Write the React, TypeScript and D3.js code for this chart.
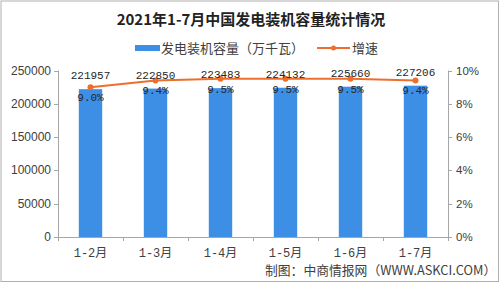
import React from "react";
import * as d3 from "d3";

const categories = ["1-2月", "1-3月", "1-4月", "1-5月", "1-6月", "1-7月"];
const capacity = [221957, 222850, 223483, 224132, 225660, 227206];
const growth = [9.0, 9.4, 9.5, 9.5, 9.5, 9.4];
const growthLabels = ["9.0%", "9.4%", "9.5%", "9.5%", "9.5%", "9.4%"];
const leftTicks = [0, 50000, 100000, 150000, 200000, 250000];
const rightTicks = [0, 2, 4, 6, 8, 10];

const W = 500;
const H = 283;
const M = { left: 58, right: 448, top: 70.5, bottom: 237 };
const BLUE = "#3d8fe6";
const ORANGE = "#ee6e2e";
const AXIS = "#a6a6a6";
const TEXT = "#404040";
const MONO = "'Liberation Mono', 'DejaVu Sans Mono', 'Noto Sans CJK SC', monospace";
const SANS = "'Liberation Sans', Arial, 'Noto Sans CJK SC', sans-serif";
const CJK = "'Noto Sans CJK SC', 'Liberation Sans', sans-serif";

export default function App() {
  const x = d3.scaleBand<string>().domain(categories).range([M.left, M.right]).paddingInner(0.64).paddingOuter(0.32);
  const xc = d3.scaleBand<string>().domain(categories).range([M.left, M.right]);
  const yL = d3.scaleLinear().domain([0, 250000]).range([M.bottom, M.top]);
  const yR = d3.scaleLinear().domain([0, 10]).range([M.bottom, M.top]);
  const cx = (c: string) => (xc(c) as number) + xc.bandwidth() / 2;
  const line = d3
    .line<number>()
    .x((_, i) => cx(categories[i]))
    .y((d) => yR(d));

  const boundaries = [M.left, ...categories.map((c) => (xc(c) as number) + xc.bandwidth())];

  return (
    <svg width={W} height={H} style={{ position: "absolute", left: 0, top: 0, background: "#fff" }}>
      <rect x={0} y={0} width={W} height={H} fill="#fff" />
      <rect x={1} y={1} width={W - 2.5} height={H - 2.5} fill="none" stroke="#b0b0b0" strokeWidth={1} />
      <text x={251} y={25} textAnchor="middle" fontFamily={CJK} fontWeight="bold" fontSize={15} fill="#222">
        2021年1-7月中国发电装机容量统计情况
      </text>

      {/* legend */}
      <rect x={135} y={45} width={25} height={6} fill={BLUE} />
      <text x={161} y={52.5} fontFamily={CJK} fontSize={13} fill={TEXT}>
        发电装机容量（万千瓦）
      </text>
      <line x1={317} x2={350} y1={48} y2={48} stroke={ORANGE} strokeWidth={2} />
      <circle cx={333.5} cy={48} r={2.5} fill={ORANGE} />
      <text x={352} y={52.5} fontFamily={CJK} fontSize={13} fill={TEXT}>
        增速
      </text>

      {/* bars */}
      {capacity.map((v, i) => (
        <rect
          key={"b" + i}
          x={x(categories[i]) as number}
          y={yL(v)}
          width={x.bandwidth()}
          height={M.bottom - yL(v)}
          fill={BLUE}
        />
      ))}

      {/* axes */}
      <line x1={M.left + 0.5} x2={M.left + 0.5} y1={M.top} y2={M.bottom} stroke={AXIS} />
      <line x1={M.right + 0.5} x2={M.right + 0.5} y1={M.top} y2={M.bottom} stroke={AXIS} />
      <line x1={M.left} x2={M.right + 1} y1={M.bottom + 0.5} y2={M.bottom + 0.5} stroke={AXIS} />
      {leftTicks.map((t) => (
        <g key={"l" + t}>
          <line x1={M.left - 4} x2={M.left} y1={Math.round(yL(t)) + 0.5} y2={Math.round(yL(t)) + 0.5} stroke={AXIS} />
          <text x={51} y={yL(t) + 4} textAnchor="end" fontFamily={SANS} fontSize={12} fill={TEXT}>
            {t}
          </text>
        </g>
      ))}
      {rightTicks.map((t) => (
        <g key={"r" + t}>
          <line x1={M.right} x2={M.right + 4} y1={Math.round(yR(t)) + 0.5} y2={Math.round(yR(t)) + 0.5} stroke={AXIS} />
          <text x={456} y={yR(t) + 4} textAnchor="start" fontFamily={SANS} fontSize={11.5} fill={TEXT}>
            {t}%
          </text>
        </g>
      ))}
      {boundaries.map((b, i) => (
        <line key={"t" + i} x1={b + 0.5} x2={b + 0.5} y1={M.bottom} y2={M.bottom + 4} stroke={AXIS} />
      ))}
      {categories.map((c) => (
        <text key={"c" + c} x={cx(c)} y={257} textAnchor="middle" fontFamily={MONO} fontSize={12} fill={TEXT}>
          {c}
        </text>
      ))}

      {/* line */}
      <path d={line(growth) as string} fill="none" stroke={ORANGE} strokeWidth={2} />
      {growth.map((g, i) => (
        <circle key={"p" + i} cx={cx(categories[i])} cy={yR(g)} r={3} fill={ORANGE} />
      ))}

      {/* labels */}
      {capacity.map((v, i) => (
        <text key={"vl" + i} x={cx(categories[i])} y={yL(v) - 10} textAnchor="middle" fontFamily={MONO} fontSize={11} fill="#262626">
          {v}
        </text>
      ))}
      {growth.map((g, i) => (
        <text key={"gl" + i} x={cx(categories[i])} y={yR(g) + 14} textAnchor="middle" fontFamily={MONO} fontSize={11} fill="#262626">
          {growthLabels[i]}
        </text>
      ))}

      <text x={265} y={274.5} fontFamily={CJK} fontSize={12.8} fill={TEXT}>
        制图：中商情报网（WWW.ASKCI.COM）
      </text>
    </svg>
  );
}
